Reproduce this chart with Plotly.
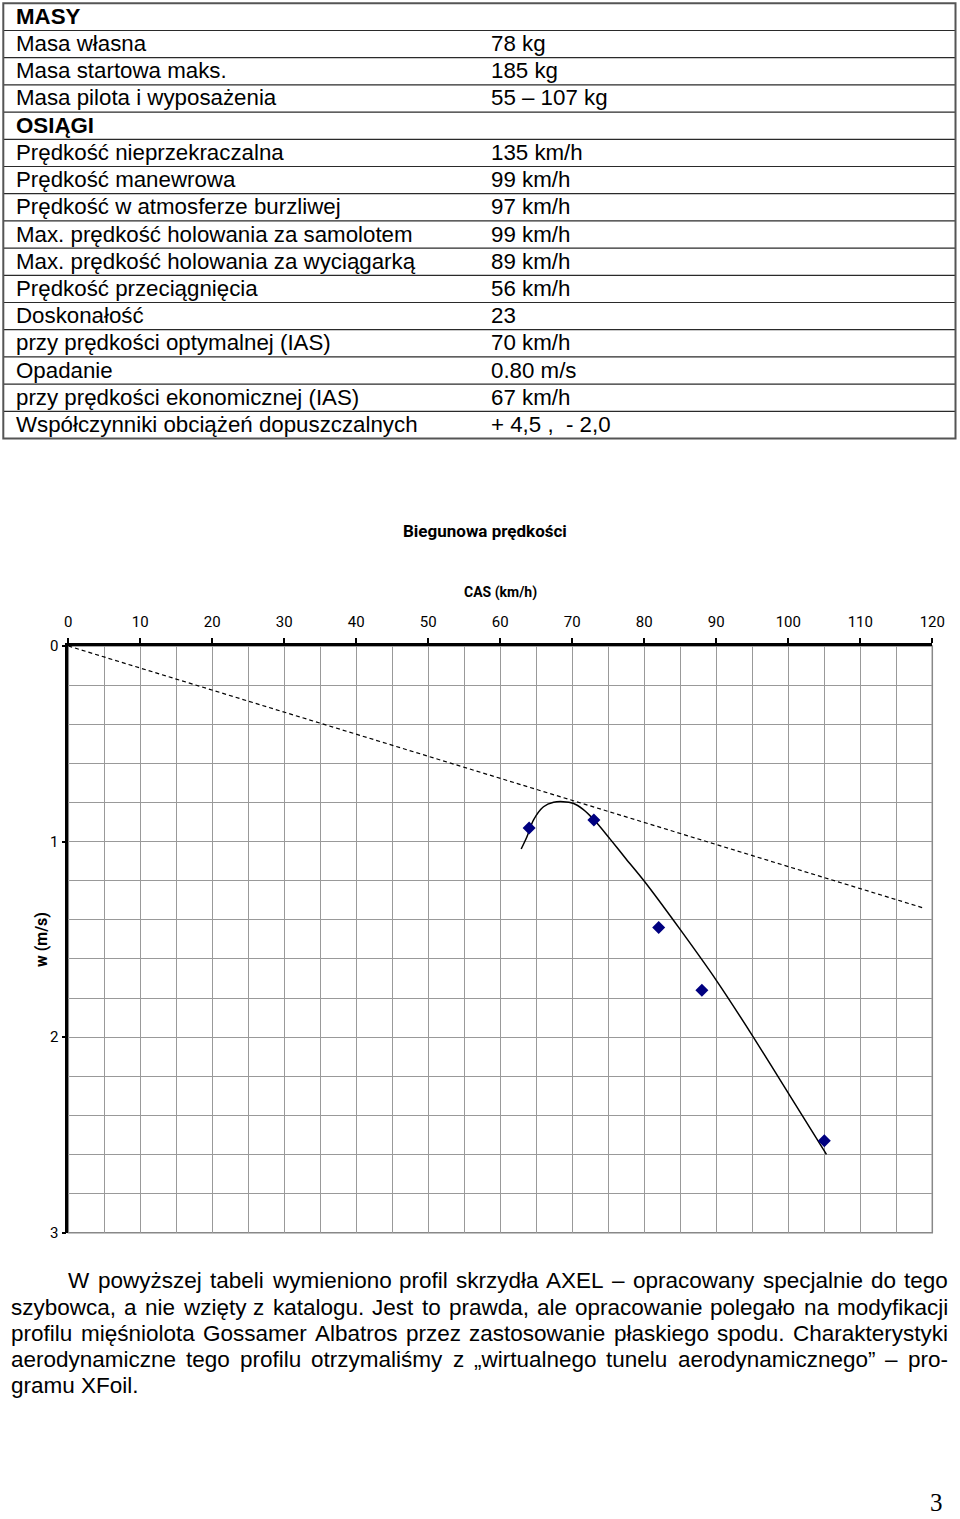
import plotly.graph_objects as go

W, H = 960, 1519

# ---------------- data ----------------
table_labels = [
    "MASY", "Masa własna", "Masa startowa maks.", "Masa pilota i wyposażenia",
    "OSIĄGI", "Prędkość nieprzekraczalna", "Prędkość manewrowa",
    "Prędkość w atmosferze burzliwej", "Max. prędkość holowania za samolotem",
    "Max. prędkość holowania za wyciągarką", "Prędkość przeciągnięcia",
    "Doskonałość", "przy prędkości optymalnej (IAS)", "Opadanie",
    "przy prędkości ekonomicznej (IAS)", "Współczynniki obciążeń dopuszczalnych",
]
table_values = [
    "", "78 kg", "185 kg", "55 – 107 kg", "", "135 km/h", "99 km/h", "97 km/h",
    "99 km/h", "89 km/h", "56 km/h", "23", "70 km/h", "0.80 m/s", "67 km/h",
    "+ 4,5 ,  - 2,0",
]
bold_rows = [0, 4]

curve_x = [62.9, 63.7, 64.6, 66.0, 67.4, 68.75, 70.1, 71.5, 73.05, 75.2, 77.5, 79.9, 84.95, 90.05, 95.1, 100.0, 105.3]
curve_y = [1.038, 0.975, 0.890, 0.822, 0.799, 0.796, 0.804, 0.835, 0.890, 0.985, 1.090, 1.198, 1.448, 1.712, 1.997, 2.286, 2.60]

pts_x = [64.0, 73.0, 82.0, 88.0, 105.0]
pts_y = [0.93, 0.89, 1.44, 1.76, 2.53]

tangent_x = [0, 118.8]
tangent_y = [0, 1.34]

x_ticks = [0, 10, 20, 30, 40, 50, 60, 70, 80, 90, 100, 110, 120]
y_ticks = [0, 1, 2, 3]

chart_title = "Biegunowa prędkości"
x_title = "CAS (km/h)"
y_title = "w (m/s)"

paragraph_lines = [
    "W powyższej tabeli wymieniono profil skrzydła AXEL – opracowany specjalnie do tego",
    "szybowca, a nie wzięty z katalogu. Jest to prawda, ale opracowanie polegało na modyfikacji",
    "profilu mięśniolota Gossamer Albatros przez zastosowanie płaskiego spodu. Charakterystyki",
    "aerodynamiczne tego profilu otrzymaliśmy z „wirtualnego tunelu aerodynamicznego” – pro-",
    "gramu XFoil.",
]
page_number = "3"

# ---------------- helpers ----------------
def px(x):
    return x / W

def py(y):
    return 1 - y / H

NARROW = "Roboto, Liberation Sans, Arial, sans-serif"
SANS = "Liberation Sans, Arial, sans-serif"

# Arial advance widths (1/1000 em) for justification of the paragraph
AW = {" ": 278, ",": 278, ".": 278, "-": 333, "(": 333, ")": 333, "/": 278,
      "–": 556, "„": 333, "”": 333, ":": 278}
for ch in "0123456789":
    AW[ch] = 556
upper = dict(A=667, B=667, C=722, D=722, E=667, F=611, G=778, H=722, I=278, J=500,
             K=667, L=556, M=833, N=722, O=778, P=667, Q=778, R=722, S=667, T=611,
             U=722, V=667, W=944, X=667, Y=667, Z=611)
lower = dict(a=556, b=556, c=500, d=556, e=556, f=278, g=556, h=556, i=222, j=222,
             k=500, l=222, m=833, n=556, o=556, p=556, q=556, r=333, s=500, t=278,
             u=556, v=500, w=722, x=500, y=500, z=500)
AW.update(upper)
AW.update(lower)
AW.update({"ą": 556, "ć": 500, "ę": 556, "ł": 222, "ń": 556, "ó": 556, "ś": 500,
           "ź": 500, "ż": 500, "Ą": 667, "Ł": 556, "Ś": 667, "Ż": 611})

def text_w(s, size):
    return sum(AW.get(c, 556) for c in s) * size / 1000.0

fig = go.Figure()

# ---------------- chart traces ----------------
fig.add_trace(go.Scatter(
    x=tangent_x, y=tangent_y, mode="lines",
    line=dict(color="black", width=1.2, dash="4px,3px"),
    hoverinfo="skip", showlegend=False))
fig.add_trace(go.Scatter(
    x=curve_x, y=curve_y, mode="lines",
    line=dict(color="black", width=1.5, shape="spline", smoothing=0.8),
    hoverinfo="skip", showlegend=False))
fig.add_trace(go.Scatter(
    x=pts_x, y=pts_y, mode="markers",
    marker=dict(symbol="diamond", size=10, color="#000080"),
    hoverinfo="skip", showlegend=False))

x0p, x1p = 68.3, 932.3
y0p, y1p = 646.0, 1232.7

grid_c = "#999999"
fig.update_layout(
    template="none",
    width=W, height=H, autosize=False,
    margin=dict(l=0, r=0, t=0, b=0, pad=0, autoexpand=False),
    paper_bgcolor="white", plot_bgcolor="white",
    showlegend=False,
    xaxis=dict(
        domain=[px(x0p), px(x1p)], range=[0, 120], side="top", automargin=False,
        tickmode="array", tickvals=x_ticks, ticktext=[str(v) for v in x_ticks],
        showgrid=True, gridcolor=grid_c, gridwidth=1,
        minor=dict(dtick=5, tick0=0, showgrid=True, gridcolor=grid_c, gridwidth=1),
        showline=True, linecolor="black", linewidth=2.5,
        ticks="outside", ticklen=5, tickwidth=2, tickcolor="black",
        tickfont=dict(family=NARROW, size=15, color="black"),
        ticklabelstandoff=5,
        zeroline=False, fixedrange=True,
    ),
    yaxis=dict(
        domain=[py(y1p), py(y0p)], range=[3, 0], automargin=False,
        tickmode="array", tickvals=y_ticks, ticktext=[str(v) for v in y_ticks],
        showgrid=True, gridcolor=grid_c, gridwidth=1,
        minor=dict(dtick=0.2, tick0=0, showgrid=True, gridcolor=grid_c, gridwidth=1),
        showline=True, linecolor="black", linewidth=2.5,
        ticks="outside", ticklen=4, tickwidth=2, tickcolor="black",
        tickfont=dict(family=NARROW, size=15, color="black"),
        zeroline=False, fixedrange=True,
    ),
)

shapes = []
annotations = []

# chart border (right/bottom grey frame)
shapes.append(dict(type="rect", xref="x domain", yref="y domain", x0=0, x1=1, y0=0, y1=1,
                   line=dict(color="#888888", width=1.5), layer="below"))

annotations.append(dict(x=px(485), y=py(531), xref="paper", yref="paper", text="<b>" + chart_title + "</b>",
                        showarrow=False, xanchor="center", yanchor="middle",
                        font=dict(family=NARROW, size=17, color="black")))
annotations.append(dict(x=px(500), y=py(592), xref="paper", yref="paper", text="<b>" + x_title + "</b>",
                        showarrow=False, xanchor="center", yanchor="middle",
                        font=dict(family=NARROW, size=14, color="black")))
annotations.append(dict(x=px(41), y=py(940), xref="paper", yref="paper", text="<b>" + y_title + "</b>",
                        showarrow=False, xanchor="center", yanchor="middle", textangle=-90,
                        font=dict(family=NARROW, size=16, color="black")))

# ---------------- table ----------------
t_left, t_right, t_top, row_h = 3.3, 955.5, 3.3, 27.2
n_rows = len(table_labels)
for k in range(1, n_rows):
    yy = t_top + row_h * k
    shapes.append(dict(type="line", xref="paper", yref="paper", x0=px(t_left), x1=px(t_right),
                       y0=py(yy), y1=py(yy), line=dict(color="#2a2a2a", width=1.2)))
shapes.append(dict(type="rect", xref="paper", yref="paper", x0=px(t_left), x1=px(t_right),
                   y0=py(t_top), y1=py(t_top + row_h * n_rows), line=dict(color="#555555", width=2)))

TSIZE = 22.3
for k, (lab, val) in enumerate(zip(table_labels, table_values)):
    yc = t_top + row_h * (k + 0.5) - 0.5
    txt = "<b>" + lab + "</b>" if k in bold_rows else lab
    annotations.append(dict(x=px(14), y=py(yc), xref="paper", yref="paper", text=txt,
                            showarrow=False, xanchor="left", yanchor="middle",
                            font=dict(family=SANS, size=TSIZE, color="black")))
    if val:
        annotations.append(dict(x=px(489), y=py(yc), xref="paper", yref="paper", text=val,
                                showarrow=False, xanchor="left", yanchor="middle",
                                font=dict(family=SANS, size=TSIZE, color="black")))

# ---------------- paragraph (justified) ----------------
PSIZE = 22.5
line_y = [1280.5, 1307, 1333, 1359, 1385.5]
line_x0 = [66, 9, 9, 9, 9]
right_edge = 946
for i, line in enumerate(paragraph_lines):
    words = line.split(" ")
    if i == len(paragraph_lines) - 1:
        annotations.append(dict(x=px(line_x0[i]), y=py(line_y[i]), xref="paper", yref="paper",
                                text=line, showarrow=False, xanchor="left", yanchor="middle",
                                font=dict(family=SANS, size=PSIZE, color="black")))
        continue
    widths = [text_w(w, PSIZE) for w in words]
    gap = (right_edge - line_x0[i] - sum(widths)) / (len(words) - 1)
    xpos = line_x0[i]
    for w, wd in zip(words, widths):
        annotations.append(dict(x=px(xpos), y=py(line_y[i]), xref="paper", yref="paper",
                                text=w, showarrow=False, xanchor="left", yanchor="middle",
                                font=dict(family=SANS, size=PSIZE, color="black")))
        xpos += wd + gap

annotations.append(dict(x=px(936.5), y=py(1518), xref="paper", yref="paper", text=page_number,
                        showarrow=False, xanchor="center", yanchor="bottom",
                        font=dict(family="Liberation Serif, Times New Roman, serif", size=25, color="black")))

fig.update_layout(shapes=shapes, annotations=annotations)
fig.write_html("out.html",
               post_script="document.body.style.margin='0px';document.body.style.padding='0px';")
